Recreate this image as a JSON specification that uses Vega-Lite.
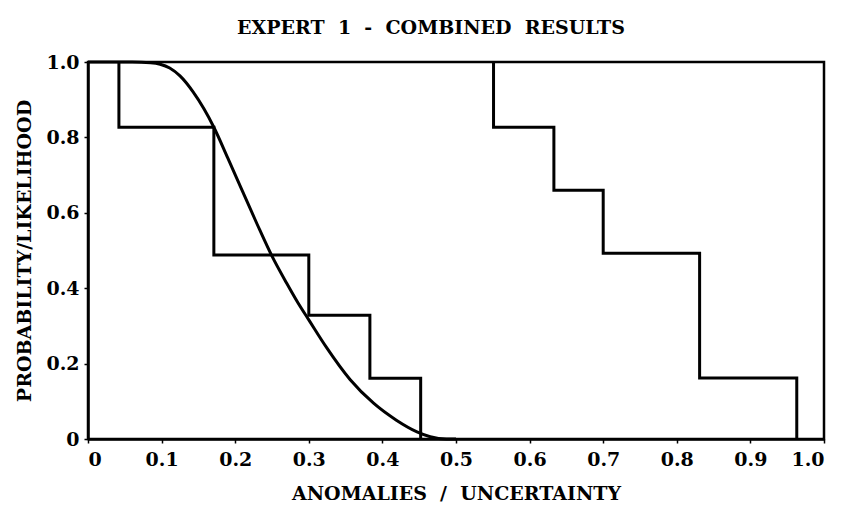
{
  "$schema": "https://vega.github.io/schema/vega-lite/v6.json",
  "width": 736,
  "height": 377,
  "autosize": "none",
  "padding": {"left": 88, "top": 62, "right": 20, "bottom": 68},
  "background": "white",
  "title": {
    "text": "EXPERT\u00a0\u00a01\u00a0\u00a0-\u00a0\u00a0COMBINED\u00a0\u00a0RESULTS",
    "font": "DejaVu Serif",
    "fontWeight": "bold",
    "fontSize": 19,
    "color": "black",
    "baseline": "alphabetic",
    "offset": 0,
    "anchor": "middle",
    "dx": -25
  },
  "datasets": {
    "step1": [
      {"x": 0.042, "y": 1.0},
      {"x": 0.171, "y": 0.827},
      {"x": 0.300, "y": 0.488},
      {"x": 0.383, "y": 0.328},
      {"x": 0.452, "y": 0.161},
      {"x": 0.452, "y": 0.0}
    ],
    "step2": [
      {"x": 0.551, "y": 1.0},
      {"x": 0.633, "y": 0.827},
      {"x": 0.700, "y": 0.66},
      {"x": 0.831, "y": 0.4925},
      {"x": 0.963, "y": 0.162},
      {"x": 0.963, "y": 0.0}
    ],
    "curve": [
      {"x": 0.0, "y": 1.0},
      {"x": 0.06, "y": 1.0},
      {"x": 0.085, "y": 0.998},
      {"x": 0.098, "y": 0.994},
      {"x": 0.111, "y": 0.984},
      {"x": 0.125, "y": 0.963},
      {"x": 0.143, "y": 0.92},
      {"x": 0.171, "y": 0.827},
      {"x": 0.19, "y": 0.745},
      {"x": 0.21, "y": 0.657},
      {"x": 0.23, "y": 0.569},
      {"x": 0.25, "y": 0.485},
      {"x": 0.27, "y": 0.413},
      {"x": 0.285, "y": 0.362},
      {"x": 0.3, "y": 0.316},
      {"x": 0.324, "y": 0.243},
      {"x": 0.356, "y": 0.158},
      {"x": 0.388, "y": 0.095},
      {"x": 0.419, "y": 0.05},
      {"x": 0.447, "y": 0.019},
      {"x": 0.465, "y": 0.006},
      {"x": 0.487, "y": 0.0},
      {"x": 0.5, "y": 0.0}
    ]
  },
  "encoding": {
    "x": {
      "field": "x",
      "type": "quantitative",
      "scale": {"domain": [0, 1], "nice": false, "zero": false},
      "axis": {
        "title": "ANOMALIES\u00a0\u00a0/\u00a0\u00a0UNCERTAINTY",
        "values": [0, 0.1, 0.2, 0.3, 0.4, 0.5, 0.6, 0.7, 0.8, 0.9, 1.0],
        "labelExpr": "datum.value == 0 ? '0' : format(datum.value, '.1f')",
        "labelPadding": 7,
        "titlePadding": 15
      }
    },
    "y": {
      "field": "y",
      "type": "quantitative",
      "scale": {"domain": [0, 1], "nice": false, "zero": false},
      "axis": {
        "title": "PROBABILITY/LIKELIHOOD",
        "values": [0, 0.2, 0.4, 0.6, 0.8, 1.0],
        "labelExpr": "datum.value == 0 ? '0' : format(datum.value, '.1f')",
        "labelPadding": 5,
        "titlePadding": 11
      }
    }
  },
  "layer": [
    {
      "data": {"name": "step1"},
      "mark": {"type": "line", "interpolate": "step-before", "color": "black", "strokeWidth": 3}
    },
    {
      "data": {"name": "step2"},
      "mark": {"type": "line", "interpolate": "step-before", "color": "black", "strokeWidth": 3}
    },
    {
      "data": {"name": "curve"},
      "mark": {"type": "line", "interpolate": "monotone", "color": "black", "strokeWidth": 3}
    }
  ],
  "config": {
    "view": {"stroke": "black", "strokeWidth": 2.5},
    "axis": {
      "grid": false,
      "domainColor": "black",
      "domainWidth": 2.5,
      "tickColor": "black",
      "tickWidth": 1.5,
      "tickSize": 4,
      "labelFont": "DejaVu Serif",
      "labelFontWeight": "bold",
      "labelFontSize": 19,
      "labelColor": "black",
      "titleFont": "DejaVu Serif",
      "titleFontWeight": "bold",
      "titleFontSize": 19,
      "titleColor": "black"
    }
  }
}
